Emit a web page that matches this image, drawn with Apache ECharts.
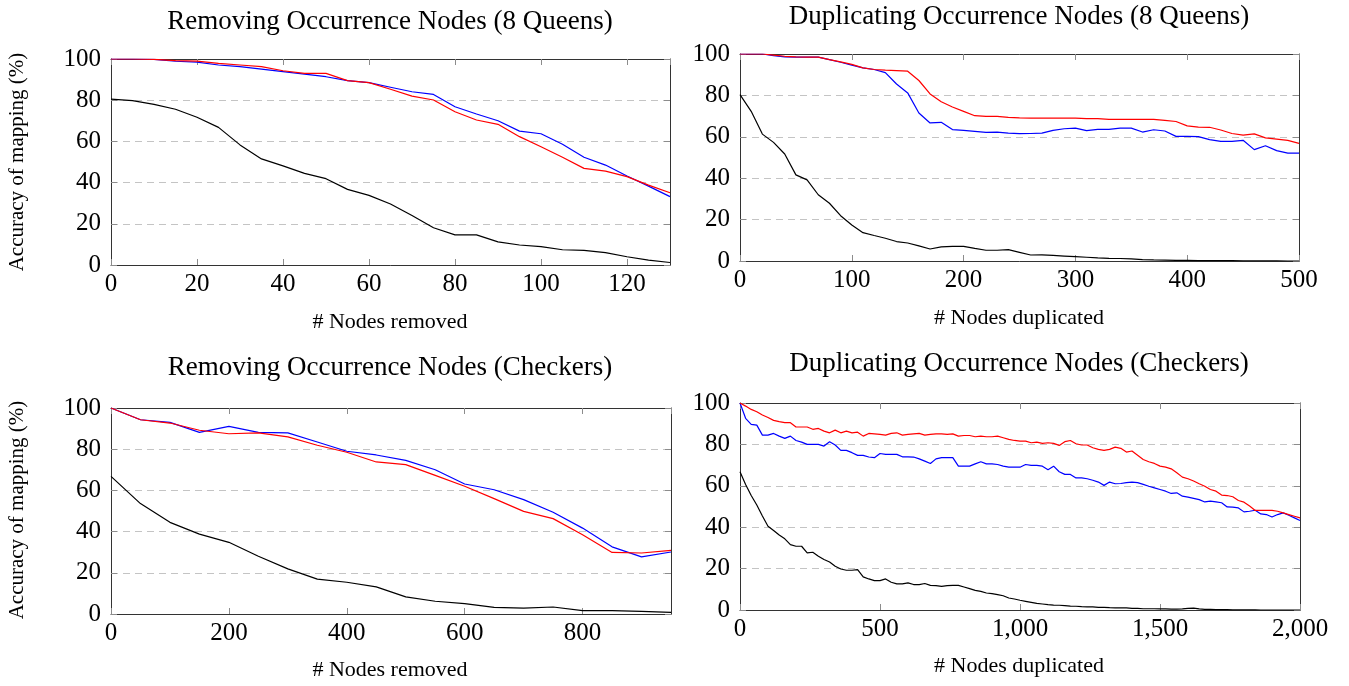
<!DOCTYPE html>
<html>
<head>
<meta charset="utf-8">
<script src="https://cdn.jsdelivr.net/npm/echarts@6/dist/echarts.min.js"></script>
<style>
html,body{margin:0;padding:0;background:#fff;}
#chart{width:1349px;height:686px;}
</style>
</head>
<body>
<div id="chart"></div>
<script>
// ---- Data ----
var tlX = [0,5,10,15,20,25,30,35,40,45,50,55,60,65,70,75,80,85,90,95,100,105,110,115,120,125,130];
var tlBlue = [100,100,99.8,98.9,98.5,97.1,96.3,95.1,93.9,92.7,91.4,89.5,88.5,86.3,84.1,82.8,76.8,73.3,70,65,63.7,58.6,52.3,48.5,43.2,38.3,33.2];
var tlRed = [100,100,99.8,99.2,99,97.9,97.1,96.3,94.3,93,93,89.5,88.5,85.3,82,80.1,74.4,70.4,68.3,62.3,57.4,52.3,46.9,45.6,42.9,38.8,35.1];
var tlBlack = [80.5,79.8,78,75.6,71.7,66.8,58.3,51.5,48.1,44.5,41.9,36.7,33.8,29.6,24,18.1,14.6,14.6,11.2,9.7,8.9,7.4,7.1,6.0,4.0,2.4,1.2];

var trX = [0,10,20,30,40,50,60,70,80,90,100,110,120,130,140,150,160,170,180,190,200,210,220,230,240,250,260,270,280,290,300,310,320,330,340,350,360,370,380,390,400,410,420,430,440,450,460,470,480,490,500];
var trBlue = [100,100,100,99.2,98.6,98.5,98.5,98.5,97.3,96,94.6,93.3,92.5,91,85.5,81.2,71.5,66.7,67,63.5,63.1,62.6,62.1,62.3,61.8,61.5,61.6,61.8,63.1,63.9,64.2,63,63.6,63.6,64.2,64.2,62.3,63.4,62.8,60.2,60.2,60.1,58.6,57.8,57.8,58.3,53.8,55.7,53.3,52.1,52.1];
var trRed = [100,100,100,99.5,98.9,98.6,98.5,98.5,97.3,96.2,95,93.3,92.5,92.2,92,91.7,87.2,80.7,76.9,74.4,72.3,70.2,69.9,69.9,69.4,69.1,69,69,69,69,69,68.8,68.8,68.4,68.4,68.4,68.4,68.4,67.9,67.4,65.3,64.7,64.6,63.3,61.6,60.8,61.4,59.5,58.9,58.3,56.8];
var trBlack = [80.4,72.3,61.3,57.3,51.7,41.6,39.2,32,27.9,21.9,17.4,13.7,12.3,11,9.4,8.7,7.3,5.8,6.8,7.1,7.1,6.1,5.2,5.2,5.5,4.2,2.9,3.0,2.7,2.4,2.1,1.8,1.5,1.3,1.2,1.0,0.7,0.5,0.4,0.3,0.3,0.2,0.2,0.2,0.2,0.1,0.1,0.1,0.1,0,0];

var blX = [0,50,100,150,200,250,300,350,400,450,500,550,600,650,700,750,800,850,900,950];
var blBlue = [100,94.3,93,88.2,91.1,88.2,87.9,83.5,79,77.2,74.6,70,63.1,60.3,55.5,49.4,41.7,32.6,27.7,30.1];
var blRed = [100,94.3,92.7,89.2,87.5,87.9,86,81.9,78.5,73.8,72.5,67.3,62,56,49.8,46.3,38.5,29.9,29.6,30.9];
var blBlack = [66.8,53.6,44.5,38.8,34.8,28.0,21.9,16.9,15.4,13.2,8.3,6.2,5.0,3.2,2.9,3.4,1.6,1.6,1.3,0.8];

var brX = [0,20,40,60,80,100,120,140,160,180,200,220,240,260,280,300,320,340,360,380,400,420,440,460,480,500,520,540,560,580,600,620,640,660,680,700,720,740,760,780,800,820,840,860,880,900,920,940,960,980,1000,1020,1040,1060,1080,1100,1120,1140,1160,1180,1200,1220,1240,1260,1280,1300,1320,1340,1360,1380,1400,1420,1440,1460,1480,1500,1520,1540,1560,1580,1600,1620,1640,1660,1680,1700,1720,1740,1760,1780,1800,1820,1840,1860,1880,1900,1920,1940,1960,1980,2000];
var brBlue = [100,92.6,89.7,89.3,84.5,84.5,85.3,84.0,82.9,84.0,81.9,81.1,80.0,80.0,80.0,79.2,81.3,79.7,77.1,77.1,76.0,74.7,74.7,73.9,73.6,75.6,75.2,75.2,75.2,74.0,74.0,73.9,73.0,71.9,70.8,73.0,73.6,73.6,73.6,69.5,69.5,69.5,70.6,71.6,70.6,70.6,70.3,69.5,69.0,69.0,69.0,70.3,69.9,69.9,69.5,67.8,69.5,66.8,65.5,65.5,63.8,63.8,63.4,62.7,61.8,60.2,61.8,61.0,61.1,61.5,61.8,61.5,60.7,59.8,59.0,58.2,57.4,56.3,56.6,55.0,54.5,53.9,53.3,52.2,52.6,52.2,51.8,49.8,49.7,49.3,47.4,47.7,48.2,46.4,46.1,44.9,46.1,46.9,45.8,44.5,43.2];
var brRed = [100,98.5,96.9,95.8,94.2,93.0,91.6,91.0,90.5,90.5,88.4,88.4,88.4,87.3,87.7,86.4,85.6,86.9,85.6,86.4,85.6,85.9,84.0,85.3,85.1,84.8,84.5,85.3,85.6,84.5,84.8,85.1,85.3,84.5,84.8,85.1,85.1,84.8,85.1,84.0,84.3,84.3,83.7,84.0,83.7,83.7,84.0,83.2,82.4,81.9,81.6,81.6,80.8,81.1,80.5,80.8,80.5,79.5,81.3,81.9,80.3,79.7,79.7,78.4,77.6,77.1,77.6,78.7,78.1,76.3,76.8,74.8,72.7,71.6,70.8,69.5,69.0,68.2,66.3,64.2,63.4,62.3,61.0,59.8,58.2,57.4,55.5,55.3,54.7,52.9,52.1,50.2,48.1,48.1,48.1,48.1,47.7,46.9,46.1,45.3,44.5];
var brBlack = [66.8,60.6,55.3,50.7,45.4,40.5,38.4,36.2,34.4,31.6,30.8,30.8,27.6,27.9,26.0,24.4,23.2,21.1,19.8,19.2,19.2,19.5,16.0,15.0,14.2,14.2,15.0,13.4,12.6,12.6,13.1,12.3,12.3,12.8,11.9,11.8,11.4,11.8,11.9,11.9,11.1,10.3,9.5,9.0,8.2,7.9,7.4,6.9,5.8,5.3,4.7,4.2,3.7,3.2,2.9,2.6,2.4,2.3,2.1,1.9,1.8,1.6,1.5,1.5,1.3,1.3,1.1,1.0,1.0,1.0,0.8,0.8,0.6,0.6,0.6,0.5,0.5,0.4,0.4,0.5,0.8,0.9,0.5,0.3,0.3,0.2,0.2,0.2,0.1,0.1,0.1,0.1,0.1,0,0,0,0,0,0,0,0];

var titles = ['Removing Occurrence Nodes (8 Queens)','Duplicating Occurrence Nodes (8 Queens)','Removing Occurrence Nodes (Checkers)','Duplicating Occurrence Nodes (Checkers)'];
var xNames = ['# Nodes removed','# Nodes duplicated','# Nodes removed','# Nodes duplicated'];
var yName = 'Accuracy of mapping (%)';

// ---- Layout ----
var FONT = '"Liberation Serif","Times New Roman",serif';
var grids = [
  {left:111, top:59, width:559, height:206},
  {left:740, top:54, width:559, height:207},
  {left:111, top:408, width:560, height:206},
  {left:740, top:403, width:560, height:207}
];
var xCfg = [
  {min:0, max:130, interval:20, showMax:false},
  {min:0, max:500, interval:100, showMax:true},
  {min:0, max:950, interval:200, showMax:false},
  {min:0, max:2000, interval:500, showMax:true}
];
var titlePos = [[390,22],[1019,17],[390,368],[1019,364]];
var xNamePos = [[390,322],[1019,318],[390,670],[1019,666]];
var yNamePos = [[17,162],[17,510]];

function fmt(v){ return String(v).replace(/\B(?=(\d{3})+(?!\d))/g, ','); }

var xAxes = [], yAxes = [], series = [], graphics = [];
var tickStyle = {show:true, inside:true, length:6, lineStyle:{color:'#8c8c8c', width:1}};
var axLine = {show:true, onZero:false, lineStyle:{color:'#333', width:1}};
for (var i = 0; i < 4; i++) {
  xAxes.push({type:'value', gridIndex:i, position:'bottom', min:xCfg[i].min, max:xCfg[i].max, interval:xCfg[i].interval,
    axisLine:axLine, axisTick:tickStyle, splitLine:{show:false},
    axisLabel:{show:true, margin:7, color:'#000', fontFamily:FONT, fontSize:25, formatter:fmt, showMaxLabel:xCfg[i].showMax}});
  xAxes.push({type:'value', gridIndex:i, position:'top', min:xCfg[i].min, max:xCfg[i].max, interval:xCfg[i].interval,
    axisLine:axLine, axisTick:tickStyle, splitLine:{show:false}, axisLabel:{show:false}});
  yAxes.push({type:'value', gridIndex:i, position:'left', min:0, max:100, interval:20,
    axisLine:axLine, axisTick:tickStyle,
    splitLine:{show:true, lineStyle:{color:'#c4c4c4', width:1, type:[7,5]}},
    axisLabel:{show:true, margin:10, color:'#000', fontFamily:FONT, fontSize:25}});
  yAxes.push({type:'value', gridIndex:i, position:'right', min:0, max:100, interval:20,
    axisLine:axLine, axisTick:tickStyle, splitLine:{show:false}, axisLabel:{show:false}});
}

function pairs(xs, ys){ var out=[]; for (var k=0;k<xs.length;k++) out.push([xs[k], ys[k]]); return out; }
var sets = [
  [tlX, tlBlue, tlRed, tlBlack],
  [trX, trBlue, trRed, trBlack],
  [blX, blBlue, blRed, blBlack],
  [brX, brBlue, brRed, brBlack]
];
var colors = ['#0000ff','#ff0000','#000000'];
for (var g = 0; g < 4; g++) {
  for (var s = 0; s < 3; s++) {
    series.push({type:'line', xAxisIndex:2*g, yAxisIndex:2*g, data:pairs(sets[g][0], sets[g][s+1]),
      showSymbol:false, symbol:'none', lineStyle:{color:colors[s], width:1.2}, itemStyle:{color:colors[s]}, z:3+s});
  }
}

function txt(x, y, text, size, rot){
  return {type:'text', x:x, y:y, rotation:rot||0, z:100,
    style:{text:text, fill:'#000', font:size+'px '+FONT, fontSize:size, fontFamily:FONT,
      align:'center', verticalAlign:'middle', textAlign:'center', textVerticalAlign:'middle'}};
}
for (var t = 0; t < 4; t++) {
  graphics.push(txt(titlePos[t][0], titlePos[t][1], titles[t], 27));
  graphics.push(txt(xNamePos[t][0], xNamePos[t][1], xNames[t], 22));
}
graphics.push(txt(yNamePos[0][0], yNamePos[0][1], yName, 21, Math.PI/2));
graphics.push(txt(yNamePos[1][0], yNamePos[1][1], yName, 21, Math.PI/2));

var chart = echarts.init(document.getElementById('chart'), null, {renderer:'canvas'});
chart.setOption({
  animation:false,
  backgroundColor:'#fff',
  grid:grids,
  xAxis:xAxes,
  yAxis:yAxes,
  series:series,
  graphic:graphics
});
</script>
</body>
</html>
